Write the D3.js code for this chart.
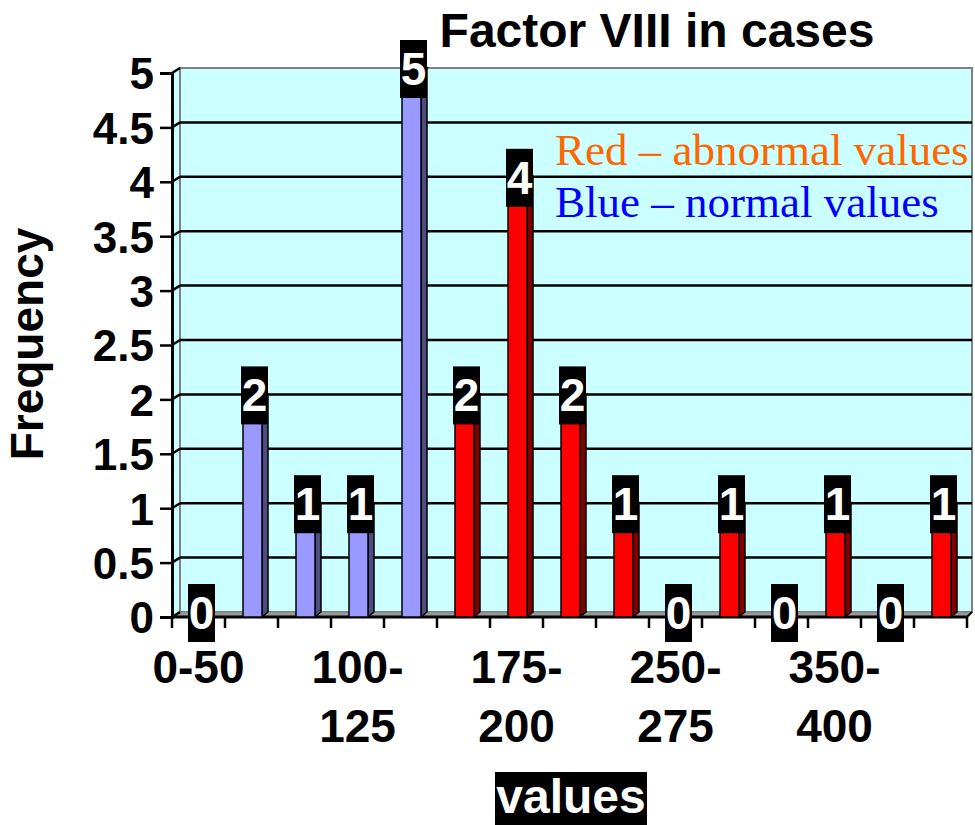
<!DOCTYPE html>
<html>
<head>
<meta charset="utf-8">
<script src="https://cdn.jsdelivr.net/npm/d3@7"></script>
<style>
  body { margin: 0; background: #fff; }
  text { font-family: "Liberation Sans", Arial, sans-serif; font-weight: bold; }
</style>
</head>
<body>
<div id="canvas"></div>
<script>
// bins of the Factor VIII values, counts per bin, and which group each bin belongs to
var categories = ["0-50", "50-75", "75-100", "100-125", "125-150", "150-175", "175-200",
                  "200-225", "225-250", "250-275", "275-300", "300-350", "350-400", "400-450", "450-500"];
var counts = [0, 2, 1, 1, 5, 2, 4, 2, 1, 0, 1, 0, 1, 0, 1];
var groups = ["normal", "normal", "normal", "normal", "normal", "abnormal", "abnormal", "abnormal",
              "abnormal", "abnormal", "abnormal", "abnormal", "abnormal", "abnormal", "abnormal"];
var yTicks = [0, 0.5, 1, 1.5, 2, 2.5, 3, 3.5, 4, 4.5, 5];
var legendItems = ["Red \u2013 abnormal values", "Blue \u2013 normal values"];

var W = 975, H = 825;
var dx = 8, dy = -5;      // depth of the back wall
var depth = 6;            // depth of a bar

var svg = d3.select("#canvas").append("svg")
            .attr("width", W)
            .attr("height", H);

var x = d3.scaleBand().domain(categories).range([172, 967]).padding(0);
var y = d3.scaleLinear().domain([0, 5]).range([617, 73]);

var front = { normal: "#9999ff", abnormal: "#ff0000" };
var side  = { normal: "#4d4d80", abnormal: "#800000" };

// side wall + back wall
svg.append("polygon")
   .attr("points", [[172, y(0)], [172, y(5)], [172 + dx, y(5) + dy], [172 + dx, y(0) + dy]].join(" "))
   .attr("fill", "#ccffff");
svg.append("rect")
   .attr("x", 172 + dx).attr("y", y(5) + dy)
   .attr("width", 972 - 172 - dx).attr("height", y(0) - y(5))
   .attr("fill", "#ccffff")
   .attr("stroke", "#808080").attr("stroke-width", 2);

// floor
svg.append("polygon")
   .attr("points", [[172, y(0)], [172 + dx, y(0) + dy], [972, y(0) + dy], [967, y(0)]].join(" "))
   .attr("fill", "#999999").attr("stroke", "#808080");

// gridlines, with the slanted piece on the side wall
var grid = svg.append("g").attr("stroke", "#000").attr("stroke-width", 2.5);
yTicks.filter(function (d) { return d > 0 && d < 5; }).forEach(function (d) {
  grid.append("line").attr("x1", 172 + dx).attr("x2", 972).attr("y1", y(d) + dy).attr("y2", y(d) + dy);
});
yTicks.forEach(function (d) {
  grid.append("line").attr("x1", 172).attr("x2", 172 + dx).attr("y1", y(d)).attr("y2", y(d) + dy);
});

// y axis
var yAxis = svg.append("g").attr("transform", "translate(172,0)")
   .call(d3.axisLeft(y).tickValues(yTicks).tickSize(12).tickPadding(6).tickFormat(d3.format("")));
yAxis.select(".domain").attr("stroke-width", 3);
yAxis.selectAll(".tick line").attr("stroke-width", 2.5);
yAxis.selectAll(".tick text").attr("font-size", 44).attr("fill", "#000").attr("dy", "0.36em");

// x axis line and ticks on bin boundaries
svg.append("line").attr("x1", 172).attr("x2", 967).attr("y1", y(0)).attr("y2", y(0))
   .attr("stroke", "#000").attr("stroke-width", 3);
svg.append("line").attr("x1", 967).attr("x2", 972).attr("y1", y(0)).attr("y2", y(0) + dy)
   .attr("stroke", "#000").attr("stroke-width", 2);
var bounds = categories.map(function (c) { return x(c); }).concat([x.range()[1]]);
svg.append("g").selectAll("line").data(bounds).join("line")
   .attr("x1", function (d) { return d; }).attr("x2", function (d) { return d; })
   .attr("y1", y(0)).attr("y2", y(0) + 11)
   .attr("stroke", "#000").attr("stroke-width", 2.5);

// x labels, every third bin, wrapped after the hyphen
var xl = svg.append("g").selectAll("text")
   .data(categories.filter(function (d, i) { return i % 3 === 0; }))
   .join("text")
   .attr("x", function (d) { return x(d) + x.bandwidth() / 2; })
   .attr("y", 683)
   .attr("text-anchor", "middle")
   .attr("font-size", 46)
   .attr("fill", "#000");
xl.each(function (d) {
  var lines = d.length > 5 ? [d.slice(0, d.indexOf("-") + 1), d.slice(d.indexOf("-") + 1)] : [d];
  d3.select(this).selectAll("tspan").data(lines).join("tspan")
    .attr("x", x(d) + x.bandwidth() / 2)
    .attr("dy", function (l, i) { return i ? 59 : 0; })
    .text(function (l) { return l; });
});

// bars
var data = categories.map(function (c, i) { return { cat: c, v: counts[i], g: groups[i] }; });
var bars = svg.append("g").selectAll("g").data(data.filter(function (d) { return d.v > 0; })).join("g");
bars.each(function (d) {
  var cx = x(d.cat) + x.bandwidth() / 2 + 1;
  var x0 = cx - 9.5, x1 = cx + 9.5, yt = y(d.v), yb = y(0);
  var g = d3.select(this);
  g.append("polygon")
   .attr("points", [[x1, yt], [x1 + depth, yt - 5], [x1 + depth, yb - 5], [x1, yb]].join(" "))
   .attr("fill", side[d.g]).attr("stroke", "#000").attr("stroke-width", 1.5);
  g.append("polygon")
   .attr("points", [[x0, yt], [x0 + depth, yt - 5], [x1 + depth, yt - 5], [x1, yt]].join(" "))
   .attr("fill", front[d.g]).attr("stroke", "#000").attr("stroke-width", 1.5);
  g.append("rect")
   .attr("x", x0).attr("y", yt).attr("width", x1 - x0).attr("height", yb - yt)
   .attr("fill", front[d.g]).attr("stroke", "#000").attr("stroke-width", 1.5);
});

// value labels on black boxes
var lab = svg.append("g").selectAll("g").data(data).join("g")
   .attr("transform", function (d) {
     return "translate(" + (x(d.cat) + x.bandwidth() / 2 + 3) + "," + (y(d.v) - 4) + ")";
   });
lab.append("rect").attr("x", -13.5).attr("y", -29).attr("width", 27).attr("height", 58).attr("fill", "#000");
lab.append("text")
   .attr("text-anchor", "middle").attr("y", 16)
   .attr("font-size", 46).attr("fill", "#fff")
   .text(function (d) { return d.v; });

// title
svg.append("text").attr("x", 657).attr("y", 47).attr("text-anchor", "middle")
   .attr("font-size", 48).attr("fill", "#000").text("Factor VIII in cases");

// y title
svg.append("text").attr("transform", "translate(43,344) rotate(-90)")
   .attr("text-anchor", "middle").attr("font-size", 46).attr("fill", "#000").text("Frequency");

// x title on black box
svg.append("rect").attr("x", 495).attr("y", 772).attr("width", 152).attr("height", 53).attr("fill", "#000");
svg.append("text").attr("x", 571).attr("y", 813).attr("text-anchor", "middle")
   .attr("font-size", 48).attr("fill", "#fff").text("values");

// colour legend text
svg.append("g").selectAll("text").data(legendItems).join("text")
   .attr("x", 555)
   .attr("y", function (d, i) { return 165 + i * 52; })
   .style("font-family", "'Liberation Serif', 'Times New Roman', serif")
   .style("font-weight", "normal")
   .attr("font-size", 45)
   .attr("fill", function (d, i) { return i ? "#0000ff" : "#ff6600"; })
   .text(function (d) { return d; });
</script>
</body>
</html>
